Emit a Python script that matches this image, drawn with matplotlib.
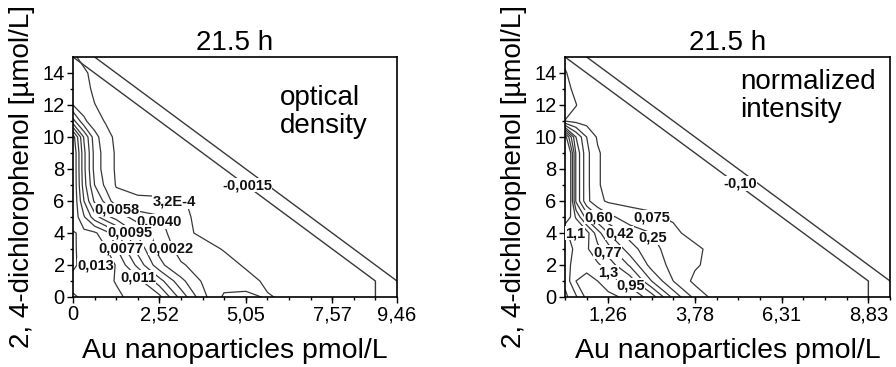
import numpy as np
import matplotlib
matplotlib.use("Agg")
import matplotlib.pyplot as plt

plt.rcParams['font.family'] = ['Liberation Sans', 'DejaVu Sans']

# measurement grid: Au nanoparticles (pmol/L) and 2,4-dichlorophenol (umol/L)
au = [0, 0.32, 0.63, 0.95, 1.26, 1.89, 2.52, 3.15, 3.78, 4.41, 5.05, 5.68, 6.31, 7.57, 8.83, 9.46]
dcp = [0, 1, 2, 3, 4, 5, 6, 7, 8, 9, 10, 11, 12, 13, 14, 15]

# optical density (x 1000), one row per dcp value
od_milli = [
    [12.8, 13.5, 13.6, 13.5, 13.4, 12.5, 11.8, 7.0, 2.8, 0.0, 0.0, 0.45, 0, 0, 0, 0],
    [14.0, 14.2, 14.0, 13.5, 13.0, 12.0, 8.5, 4.5, 2.0, 1.2, 0.9, 0, 0, 0, 0, 0],
    [12.6, 14.0, 14.3, 14.0, 13.0, 9.0, 4.5, 2.4, 1.5, 1.0, 0.1, 0, 0, 0, 0, 0],
    [12.8, 13.8, 14.0, 13.3, 11.5, 7.0, 3.5, 1.5, 1.0, 0.2, 0, 0, 0, 0, 0, 0],
    [12.9, 13.6, 13.4, 12.0, 10.0, 5.5, 3.0, 0.8, 0, 0, 0, 0, 0, 0, 0, 0],
    [14.5, 11.5, 8.5, 6.5, 5.0, 3.2, 2.4, 0.6, 0, 0, 0, 0, 0, 0, 0, 0],
    [15.0, 9.5, 5.5, 3.5, 1.0, 0.5, 0.45, 0.42, 0, 0, 0, 0, 0, 0, 0, 0],
    [15.0, 8.5, 4.0, 1.8, 0.2, 0, 0, 0, 0, 0, 0, 0, 0, 0, 0, 0],
    [15.0, 8.2, 3.4, 1.3, 0.1, 0, 0, 0, 0, 0, 0, 0, 0, 0, 0, 0],
    [15.0, 8.2, 3.4, 1.3, 0.1, 0, 0, 0, 0, 0, 0, 0, 0, 0, 0, 0],
    [14.0, 7.5, 3.0, 0.9, 0, 0, 0, 0, 0, 0, 0, 0, 0, 0, 0, 0],
    [6.5, 2.6, 1.0, 0.2, 0, 0, 0, 0, 0, 0, 0, 0, 0, 0, 0, 0],
    [2.2, 1.2, 0.35, 0, 0, 0, 0, 0, 0, 0, 0, 0, 0, 0, 0, 0],
    [1.2, 0.7, 0.1, 0, 0, 0, 0, 0, 0, 0, 0, 0, 0, 0, 0, 0],
    [1.0, 0.5, 0, 0, 0, 0, 0, 0, 0, 0, 0, 0, 0, 0, 0, 0],
    [0.5, 0, 0, 0, 0, 0, 0, 0, 0, 0, 0, 0, 0, 0, 0, 0],
]

# normalized intensity, one row per dcp value
ni = [
    [0.9, 1.1, 1.35, 1.4, 1.35, 1.25, 1.05, 0.55, 0.2, 0, 0, 0, 0, 0, 0, 0],
    [1.0, 1.3, 1.4, 1.3, 1.2, 1.05, 0.6, 0.25, 0.03, 0, 0, 0, 0, 0, 0, 0],
    [1.05, 1.2, 1.2, 1.15, 1.05, 0.75, 0.35, 0.2, 0.1, 0, 0, 0, 0, 0, 0, 0],
    [0.95, 1.2, 1.15, 1.0, 0.85, 0.5, 0.3, 0.18, 0.12, 0, 0, 0, 0, 0, 0, 0],
    [1.05, 1.35, 1.2, 0.85, 0.6, 0.35, 0.25, 0.12, 0, 0, 0, 0, 0, 0, 0, 0],
    [1.5, 1.1, 0.7, 0.45, 0.3, 0.15, 0.1, 0.05, 0, 0, 0, 0, 0, 0, 0, 0],
    [1.9, 0.75, 0.3, 0.12, 0.05, 0.03, 0.03, 0, 0, 0, 0, 0, 0, 0, 0, 0],
    [1.9, 0.75, 0.3, 0.1, 0, 0, 0, 0, 0, 0, 0, 0, 0, 0, 0, 0],
    [1.9, 0.75, 0.3, 0.1, 0, 0, 0, 0, 0, 0, 0, 0, 0, 0, 0, 0],
    [1.9, 0.75, 0.3, 0.1, 0, 0, 0, 0, 0, 0, 0, 0, 0, 0, 0, 0],
    [1.4, 0.6, 0.25, 0.05, 0, 0, 0, 0, 0, 0, 0, 0, 0, 0, 0, 0],
    [0.07, 0.02, 0, 0, 0, 0, 0, 0, 0, 0, 0, 0, 0, 0, 0, 0],
    [0.15, 0.08, 0, 0, 0, 0, 0, 0, 0, 0, 0, 0, 0, 0, 0, 0],
    [0.12, 0.04, 0, 0, 0, 0, 0, 0, 0, 0, 0, 0, 0, 0, 0, 0],
    [0.09, 0, 0, 0, 0, 0, 0, 0, 0, 0, 0, 0, 0, 0, 0, 0],
    [0.03, 0, 0, 0, 0, 0, 0, 0, 0, 0, 0, 0, 0, 0, 0, 0],
]

od_levels = [0.32, 2.2, 4.0, 5.8, 7.7, 9.5, 11.3, 13.1]
ni_levels = [0.075, 0.25, 0.425, 0.6, 0.775, 0.95, 1.125, 1.3]

# edge of the measured region and lowest contour (straight diagonals)
edge_x = [0.63, 9.46]
edge_y = [15, 1.0]
low_x = [0, 8.83, 8.83]
low_y = [15, 1.0, 0]

od_labels = [('-0,0015', 5.09, 7.0), ('3,2E-4', 2.95, 5.94), ('0,0058', 1.28, 5.44),
             ('0,0040', 2.50, 4.72), ('0,0095', 1.66, 4.04), ('0,0077', 1.40, 3.06),
             ('0,0022', 2.85, 3.06), ('0,013', 0.66, 2.0), ('0,011', 1.91, 1.25)]
ni_labels = [('-0,10', 5.09, 7.1), ('0,075', 2.52, 5.0), ('0,60', 0.99, 5.0),
             ('1,1', 0.29, 4.0), ('0,42', 1.60, 4.0), ('0,25', 2.54, 3.69),
             ('0,77', 1.24, 2.81), ('1,3', 1.27, 1.56), ('0,95', 1.92, 0.75)]

left_ticks = [0, 2.52, 5.05, 7.57, 9.46]
left_ticklabels = ['0', '2,52', '5,05', '7,57', '9,46']
right_ticks = [1.26, 3.78, 6.31, 8.83]
right_ticklabels = ['1,26', '3,78', '6,31', '8,83']

fig = plt.figure(figsize=(8.96, 3.67), dpi=100)
ax1 = fig.add_axes([73 / 896, 1 - 297 / 367, 324 / 896, 240 / 367])
ax2 = fig.add_axes([565 / 896, 1 - 297 / 367, 325 / 896, 240 / 367])

line_col = '#383838'

def draw_panel(ax, z, levels, labels, xt, xtl, note):
    ax.contour(au, dcp, np.array(z, dtype=float), levels=levels,
               colors=line_col, linewidths=0.9)
    ax.plot(edge_x, edge_y, color=line_col, lw=1.0)
    ax.plot(low_x, low_y, color=line_col, lw=1.0)
    for txt, x, y in labels:
        ax.text(x, y, txt, ha='center', va='center', fontsize=10.5, fontweight='bold',
                color='#111111',
                bbox=dict(facecolor='white', edgecolor='none', pad=0.1))
    ax.set_xlim(0, 9.46)
    ax.set_ylim(0, 15)
    ax.set_xticks(xt)
    ax.set_xticklabels(xtl)
    ax.set_xticks(np.linspace(0, 9.46, 16), minor=True)
    ax.set_yticks(range(0, 15, 2))
    ax.set_yticks(range(1, 15, 2), minor=True)
    ax.tick_params(which='major', direction='out', length=4, width=1, labelsize=14.5, pad=2)
    ax.tick_params(which='minor', direction='out', length=2.5, width=1)
    for s in ax.spines.values():
        s.set_linewidth(1.2)
    ax.set_title('21.5 h', fontsize=20, pad=5)
    ax.set_xlabel('Au nanoparticles pmol/L', fontsize=20.5, labelpad=10)
    ax.set_ylabel('2, 4-dichlorophenol [µmol/L]', fontsize=20, labelpad=5)
    ax.text(note[1], note[2], note[0], transform=ax.transAxes, ha='left', va='top',
            fontsize=20, linespacing=1.1)

draw_panel(ax1, od_milli, od_levels, od_labels,
           left_ticks, left_ticklabels, ('optical\ndensity', 0.64, 0.885))
draw_panel(ax2, ni, ni_levels, ni_labels,
           right_ticks, right_ticklabels, ('normalized\nintensity', 0.54, 0.95))

fig.savefig('out.png', dpi=100)
